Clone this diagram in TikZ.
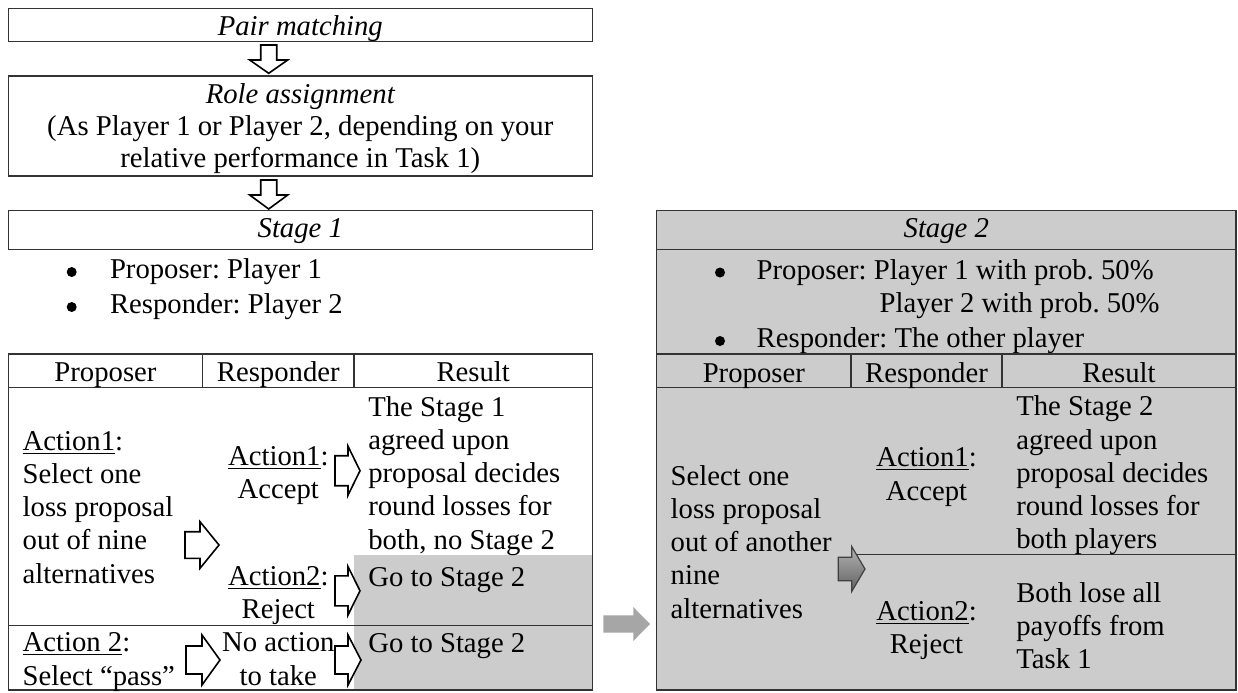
\documentclass[tikz,border=0pt]{standalone}
\usepackage{fontspec}
\setmainfont{Liberation Serif}
\frenchspacing
\definecolor{bg}{gray}{0.8}
\definecolor{ln}{gray}{0.2}
\definecolor{arrgray}{gray}{0.65}
\newcommand\fsz{\fontsize{14.35pt}{16.65pt}\selectfont}
\newcommand\Lcol[1]{\begin{tabular}[t]{@{}l@{}}#1\end{tabular}}
\newcommand\Ccol[1]{\begin{tabular}[t]{@{}c@{}}#1\end{tabular}}
% right block arrow: style, x0, x-head, x-tip, y-centre, shaft half, head half
\newcommand\rblockarrow[7]{%
  \draw[#1] ({#2},{#5-#6}) -- ({#3},{#5-#6}) -- ({#3},{#5-#7}) -- ({#4},{#5})
    -- ({#3},{#5+#7}) -- ({#3},{#5+#6}) -- ({#2},{#5+#6}) -- cycle;}
% down block arrow: style, x-centre, y0, y-head, y-tip, shaft half, head half
\newcommand\dblockarrow[7]{%
  \draw[#1] ({#2-#6},{#3}) -- ({#2-#6},{#4}) -- ({#2-#7},{#4}) -- ({#2},{#5})
    -- ({#2+#7},{#4}) -- ({#2+#6},{#4}) -- ({#2+#6},{#3}) -- cycle;}
\tikzset{
  txt/.style={inner sep=0pt, outer sep=0pt, font=\fsz},
  bulletdot/.style={circle, fill=black, inner sep=0pt, minimum size=5pt},
  boxline/.style={draw=ln, line width=0.65pt},
  hollow/.style={draw=black, fill=white, line width=0.8pt, line join=miter},
  grayarrow/.style={fill=arrgray, draw=none},
  darkarrow/.style={top color=black!30, bottom color=black!62, draw=black!75, line width=0.6pt},
}
\begin{document}
\begin{tikzpicture}[x=0.5pt, y=-0.5pt]
\useasboundingbox (0,0) rectangle (1238,692);

% ---------- left column ----------
\draw[boxline] (8.3,8.3) rectangle (592.3,41.7);
\node[txt, anchor=base] (pair) at (300.3,35) {\itshape Pair matching};

\dblockarrow{hollow}{268.7}{45}{60}{73.3}{8}{19}

\draw[boxline] (8.3,76) rectangle (592.3,176);
\node[txt, anchor=base] (role) at (300.3,103.3)
  {\fontsize{14.35pt}{16.15pt}\selectfont\Ccol{\itshape Role assignment\\(As Player 1 or Player 2, depending on your\\relative performance in Task 1)}};

\dblockarrow{hollow}{268.7}{180}{195}{209}{8}{19}

\draw[boxline] (8.3,210.7) rectangle (592.3,249.3);
\node[txt, anchor=base] (stage1) at (300.3,237.7) {\itshape Stage 1};

\node[bulletdot] (b1) at (71.7,272) {};
\node[txt, anchor=base west] (b1t) at (110,278.3) {Proposer: Player 1};
\node[bulletdot] (b2) at (71.7,307) {};
\node[txt, anchor=base west] (b2t) at (110,313.5) {Responder: Player 2};

% left table
\fill[bg] (354,555) rectangle (592.3,690);
\draw[boxline] (8.3,354) rectangle (592.3,690);
\draw[boxline] (8.3,387.7) -- (592.3,387.7);
\draw[boxline] (202.7,354) -- (202.7,387.7);
\draw[boxline] (354,354) -- (354,387.7);
\draw[boxline] (8.3,625.7) -- (592.3,625.7);

\node[txt, anchor=base] (h1) at (105.5,381.7) {Proposer};
\node[txt, anchor=base] (h2) at (278.3,381.7) {Responder};
\node[txt, anchor=base] (h3) at (473.2,381.7) {Result};

\node[txt, anchor=base west] (p1) at (22.7,450)
  {\Lcol{\underline{Action1}:\\Select one\\loss proposal\\out of nine\\alternatives}};
\node[txt, anchor=base] (r1) at (278.3,465) {\Ccol{\underline{Action1}:\\Accept}};
\node[txt, anchor=base] (r2) at (278.3,585) {\Ccol{\underline{Action2}:\\Reject}};
\node[txt, anchor=base west] (s1) at (368.3,416)
  {\Lcol{The Stage 1\\agreed upon\\proposal decides\\round losses for\\both, no Stage 2}};
\node[txt, anchor=base west] (s2) at (368.3,586) {Go to Stage 2};
\node[txt, anchor=base west] (p2) at (22.7,651.7)
  {\Lcol{\underline{Action 2}:\\Select “pass”}};
\node[txt, anchor=base] (r3) at (278.3,651.7) {\Ccol{No action\\to take}};
\node[txt, anchor=base west] (s3) at (368.3,652) {Go to Stage 2};

\rblockarrow{hollow}{185}{200}{219}{545}{13.3}{23.3}
\rblockarrow{hollow}{335}{348}{360}{470.7}{15}{24.5}
\rblockarrow{hollow}{335}{348}{360}{590.8}{15}{24.2}
\rblockarrow{hollow}{186}{202}{220}{660}{14}{25}
\rblockarrow{hollow}{335}{348}{361}{660}{14}{25}

% gray arrow between stages
\rblockarrow{grayarrow}{603.3}{633.3}{650}{624}{8.7}{17}

% ---------- Stage 2 ----------
\fill[bg] (656.7,210.7) rectangle (1236,690);
\draw[boxline] (656.7,210.7) rectangle (1236,690);
\draw[boxline] (656.7,249.3) -- (1236,249.3);
\node[txt, anchor=base] (stage2) at (946.3,237.7) {\itshape Stage 2};

\node[bulletdot] (c1) at (720,272.5) {};
\node[txt, anchor=base west] (c1t) at (756.7,279.3) {Proposer: Player 1 with prob. 50\%};
\node[txt, anchor=base west] (c1u) at (879.7,312.7) {Player 2 with prob. 50\%};
\node[bulletdot] (c2) at (720,341) {};
\node[txt, anchor=base west] (c2t) at (756.7,347.7) {Responder: The other player};

\draw[boxline] (656.7,354) -- (1236,354);
\draw[boxline] (656.7,387.7) -- (1236,387.7);
\draw[boxline] (851,354) -- (851,387.7);
\draw[boxline] (1002,354) -- (1002,387.7);
\draw[boxline] (857,554.3) -- (1236,554.3);

\node[txt, anchor=base] (k1) at (753.8,382.3) {Proposer};
\node[txt, anchor=base] (k2) at (926.5,382.3) {Responder};
\node[txt, anchor=base] (k3) at (1119,382.3) {Result};

\node[txt, anchor=base west] (q1) at (670.7,485)
  {\Lcol{Select one\\loss proposal\\out of another\\nine\\alternatives}};
\node[txt, anchor=base] (t1) at (926.5,466.7) {\Ccol{\underline{Action1}:\\Accept}};
\node[txt, anchor=base] (t2) at (926.5,620) {\Ccol{\underline{Action2}:\\Reject}};
\node[txt, anchor=base west] (u1) at (1016.3,415.7)
  {\Lcol{The Stage 2\\agreed upon\\proposal decides\\round losses for\\both players}};
\node[txt, anchor=base west] (u2) at (1016.3,602.3)
  {\Lcol{Both lose all\\payoffs from\\Task 1}};

\rblockarrow{darkarrow}{838.3}{851.7}{865}{569}{11.7}{22.5}
\end{tikzpicture}
\end{document}
